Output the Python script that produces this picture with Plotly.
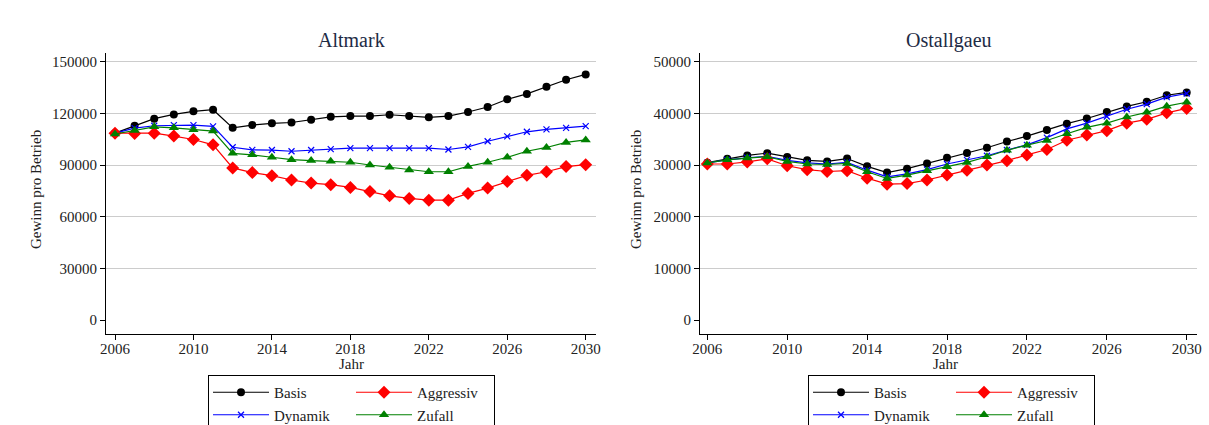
import plotly.graph_objects as go

# Jahre der Simulation
years = list(range(2006, 2031))

# Gewinn pro Betrieb, Region Altmark
altmark_basis = [108500, 112800, 116900, 119400, 121200, 122100, 111600, 113200, 114200, 114700,
                 116300, 118000, 118400, 118400, 119200, 118400, 117700, 118400, 120800, 123700,
                 128200, 131300, 135400, 139500, 142600]
altmark_aggressiv = [108500, 108300, 108500, 106800, 104800, 101700, 88300, 85600, 83800, 81300,
                     79500, 78600, 77000, 74600, 72100, 70600, 69600, 69600, 73500, 76600,
                     80500, 84000, 86100, 89100, 90200]
altmark_dynamik = [108500, 111400, 112800, 113200, 113200, 112400, 100300, 98800, 98700, 98000,
                   98700, 99200, 99800, 99800, 99800, 99800, 99800, 99000, 100500, 103800,
                   106600, 109300, 110700, 111600, 112600]
altmark_zufall = [108000, 110100, 112200, 111600, 110500, 109700, 96800, 95900, 94500, 93100,
                  92600, 92200, 91600, 90000, 88700, 87100, 86100, 86100, 89200, 91600,
                  94500, 98000, 100200, 103100, 104600]

# Gewinn pro Betrieb, Region Ostallgaeu
ostallgaeu_basis = [30450, 31200, 31850, 32300, 31550, 30900, 30700, 31250, 29750, 28550,
                    29300, 30300, 31400, 32350, 33350, 34550, 35600, 36800, 38000, 39000,
                    40250, 41350, 42250, 43500, 44050]
ostallgaeu_aggressiv = [30200, 30200, 30600, 31200, 29850, 29100, 28750, 28900, 27450, 26300,
                        26400, 27100, 28050, 29000, 30000, 30850, 31950, 33000, 34800, 35800,
                        36650, 38100, 38850, 40100, 40950]
ostallgaeu_dynamik = [30400, 31000, 31400, 31700, 30900, 30400, 30200, 30500, 29000, 27700,
                      28300, 29100, 30200, 31000, 31800, 32900, 33900, 35300, 37000, 38100,
                      39400, 40800, 41800, 43150, 43850]
ostallgaeu_zufall = [30400, 31000, 31350, 31600, 30700, 30200, 30100, 30300, 28700, 27400,
                     28050, 28900, 29650, 30500, 31600, 32850, 33850, 34750, 36050, 37300,
                     38100, 39300, 40200, 41400, 42150]

x_ticks = [2006, 2010, 2014, 2018, 2022, 2026, 2030]
altmark_yticks = [0, 30000, 60000, 90000, 120000, 150000]
ostallgaeu_yticks = [0, 10000, 20000, 30000, 40000, 50000]

W, H = 1209, 425
SERIF = "Liberation Serif"
TEXT = "#222222"
TITLE = "#1e2b45"

# style per scenario: (colour, marker symbol, marker size, legend column group)
styles = {
    "Basis": ("#000000", "circle", 8, "c1"),
    "Aggressiv": ("#ff0000", "diamond", 10, "c2"),
    "Dynamik": ("#0000ff", "x-thin", 6, "c1"),
    "Zufall": ("#008000", "triangle-up", 9, "c2"),
}

fig = go.Figure()


def add_series(name, values, xref, yref, legend, suffix):
    color, symbol, size, grp = styles[name]
    marker = dict(color=color, symbol=symbol, size=size, line=dict(width=0))
    if symbol == "x-thin":
        marker["line"] = dict(width=1.2, color=color)
    fig.add_trace(go.Scatter(
        x=years, y=values, mode="lines+markers", name=name,
        line=dict(color=color, width=1.2), marker=marker,
        xaxis=xref, yaxis=yref, legend=legend,
        legendgroup=grp + suffix,
    ))


# order inside each legend column: Basis/Dynamik, Aggressiv/Zufall
for nm, vals in [("Basis", altmark_basis), ("Dynamik", altmark_dynamik),
                 ("Aggressiv", altmark_aggressiv), ("Zufall", altmark_zufall)]:
    add_series(nm, vals, "x", "y", "legend", "a")
for nm, vals in [("Basis", ostallgaeu_basis), ("Dynamik", ostallgaeu_dynamik),
                 ("Aggressiv", ostallgaeu_aggressiv), ("Zufall", ostallgaeu_zufall)]:
    add_series(nm, vals, "x2", "y2", "legend2", "o")

# pixel geometry of the two panels
plot_top, plot_bottom = 53, 334
ydom = [(H - plot_bottom) / H, (H - plot_top) / H]
left_px = (106, 596)
right_px = (700, 1197)


def xrange_for(px, x0px, x1px):
    # px: (pixel of 2006, pixel of 2030)
    per = (px[1] - px[0]) / 24.0
    return [2006 - (px[0] - x0px) / per, 2030 + (x1px - px[1]) / per]


def yrange_for(top_val, top_px, zero_px):
    per = top_val / (zero_px - top_px)
    return [-(plot_bottom - zero_px) * per, top_val + (top_px - plot_top) * per]


axis_common = dict(
    showline=True, linecolor="#000000", linewidth=1,
    ticks="outside", ticklen=5, tickcolor="#000000", tickwidth=1,
    tickfont=dict(family=SERIF, size=15, color=TEXT),
    mirror=False,
)

fig.update_layout(
    width=W, height=H,
    margin=dict(l=0, r=0, t=0, b=0, autoexpand=False),
    paper_bgcolor="white", plot_bgcolor="white",
    showlegend=True,
    xaxis=dict(domain=[left_px[0] / W, left_px[1] / W], anchor="y",
               range=xrange_for((115, 585.7), *left_px),
               tickvals=x_ticks, showgrid=False, zeroline=False,
               ticklabelstandoff=-4, **axis_common),
    yaxis=dict(domain=ydom, anchor="x",
               range=yrange_for(150000, 61.7, 320),
               tickvals=altmark_yticks, tickformat="d",
               showgrid=True, gridcolor="#cccccc", gridwidth=1,
               zeroline=True, zerolinecolor="white", zerolinewidth=1, **axis_common),
    xaxis2=dict(domain=[right_px[0] / W, right_px[1] / W], anchor="y2",
                range=xrange_for((707.3, 1186.7), *right_px),
                tickvals=x_ticks, showgrid=False, zeroline=False,
                ticklabelstandoff=-4, **axis_common),
    yaxis2=dict(domain=ydom, anchor="x2",
                range=yrange_for(50000, 61.7, 320),
                tickvals=ostallgaeu_yticks, tickformat="d",
                showgrid=True, gridcolor="#cccccc", gridwidth=1,
                zeroline=True, zerolinecolor="white", zerolinewidth=1, **axis_common),
)

legend_common = dict(
    orientation="h", traceorder="grouped", tracegroupgap=0,
    xanchor="left", yanchor="top", y=(H - 375) / H,
    bgcolor="white", bordercolor="#000000", borderwidth=1,
    font=dict(family=SERIF, size=15, color=TEXT),
    itemwidth=56, entrywidth=72, itemclick=False, itemdoubleclick=False,
)
fig.update_layout(
    legend=dict(x=208 / W, **legend_common),
    legend2=dict(x=808 / W, **legend_common),
)

annotations = [
    dict(text="Altmark", x=(left_px[0] + left_px[1]) / 2 / W, y=(H - 40) / H,
         font=dict(family=SERIF, size=20, color=TITLE)),
    dict(text="Ostallgaeu", x=(right_px[0] + right_px[1]) / 2 / W, y=(H - 40) / H,
         font=dict(family=SERIF, size=20, color=TITLE)),
    dict(text="Gewinn pro Betrieb", x=36 / W, y=(H - 190) / H, textangle=-90,
         font=dict(family=SERIF, size=15, color=TEXT)),
    dict(text="Gewinn pro Betrieb", x=636 / W, y=(H - 190) / H, textangle=-90,
         font=dict(family=SERIF, size=15, color=TEXT)),
    dict(text="Jahr", x=351 / W, y=(H - 364) / H,
         font=dict(family=SERIF, size=15, color=TEXT)),
    dict(text="Jahr", x=946 / W, y=(H - 364) / H,
         font=dict(family=SERIF, size=15, color=TEXT)),
]
for a in annotations:
    a.update(xref="paper", yref="paper", showarrow=False, xanchor="center", yanchor="middle")
fig.update_layout(annotations=annotations)

fig.write_html("out.html")
